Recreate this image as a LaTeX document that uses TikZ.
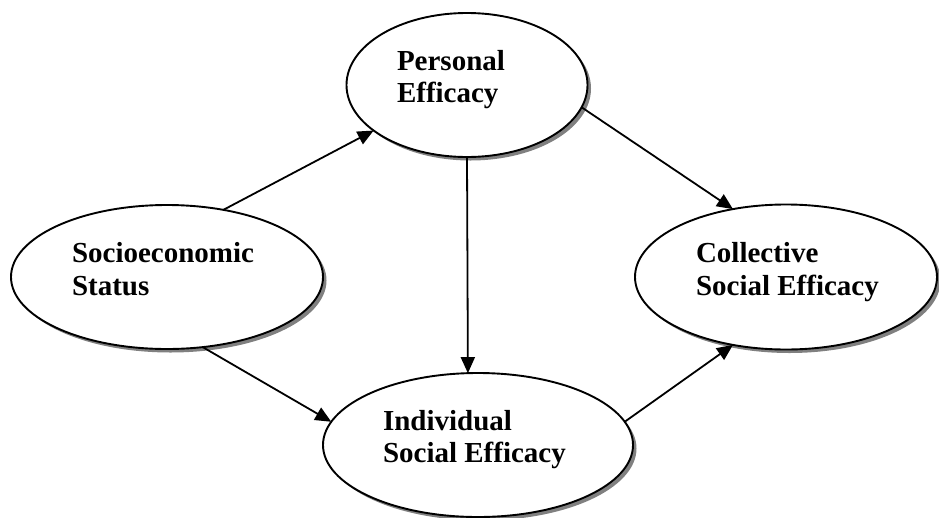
\documentclass[tikz,border=0pt]{standalone}
\usepackage{fontspec}
\setmainfont{Liberation Serif}
\usetikzlibrary{arrows.meta,shapes.geometric}

\tikzset{
  construct/.style={ellipse, draw=black, line width=1.9pt, fill=white,
    inner sep=0pt, outer sep=0pt},
  shadowell/.style={ellipse, fill=black!50, draw=none, inner sep=0pt, outer sep=0pt},
  txt/.style={anchor=base west, inner sep=0pt, outer sep=0pt,
    font=\fontsize{29}{33}\selectfont\bfseries},
  path/.style={line width=1.8pt, -{Triangle[length=16pt,width=14pt]}}
}

\begin{document}
\begin{tikzpicture}[x=1pt,y=-1pt]
  \useasboundingbox (0,0) rectangle (939,517);

  % drop shadows
  \foreach \cx/\cy/\rx/\ry in {467/85/120.5/72, 167/277/156/72, 786/277/151/72.5, 478/445/155/72}
    \node[shadowell, minimum width=2*\rx pt, minimum height=2*\ry pt] at (\cx+3.5,\cy+3.5) {};

  % constructs
  \node[construct, minimum width=241pt, minimum height=144pt] (pe)  at (467,85)  {};
  \node[construct, minimum width=312pt, minimum height=144pt] (ses) at (167,277) {};
  \node[construct, minimum width=302pt, minimum height=145pt] (cse) at (786,277) {};
  \node[construct, minimum width=310pt, minimum height=144pt] (ise) at (478,445) {};

  % labels
  \node[txt] (pe1)  at (397,70)  {Personal};
  \node[txt] (pe2)  at (397,102) {Efficacy};
  \node[txt] (ses1) at (72,262)  {Socioeconomic};
  \node[txt] (ses2) at (72,295)  {Status};
  \node[txt] (cse1) at (696,262) {Collective};
  \node[txt] (cse2) at (696,295) {Social Efficacy};
  \node[txt] (ise1) at (383,430) {Individual};
  \node[txt] (ise2) at (383,462) {Social Efficacy};

  % paths
  \draw[path] (ses.50)  -- (pe.206);
  \draw[path] (ses.297) -- (ise.171);
  \draw[path] (pe.-90)  -- (ise.98.7);
  \draw[path] (pe.-11)  -- (cse.128);
  \draw[path] (ise.9)   -- (cse.232.5);
\end{tikzpicture}
\end{document}
